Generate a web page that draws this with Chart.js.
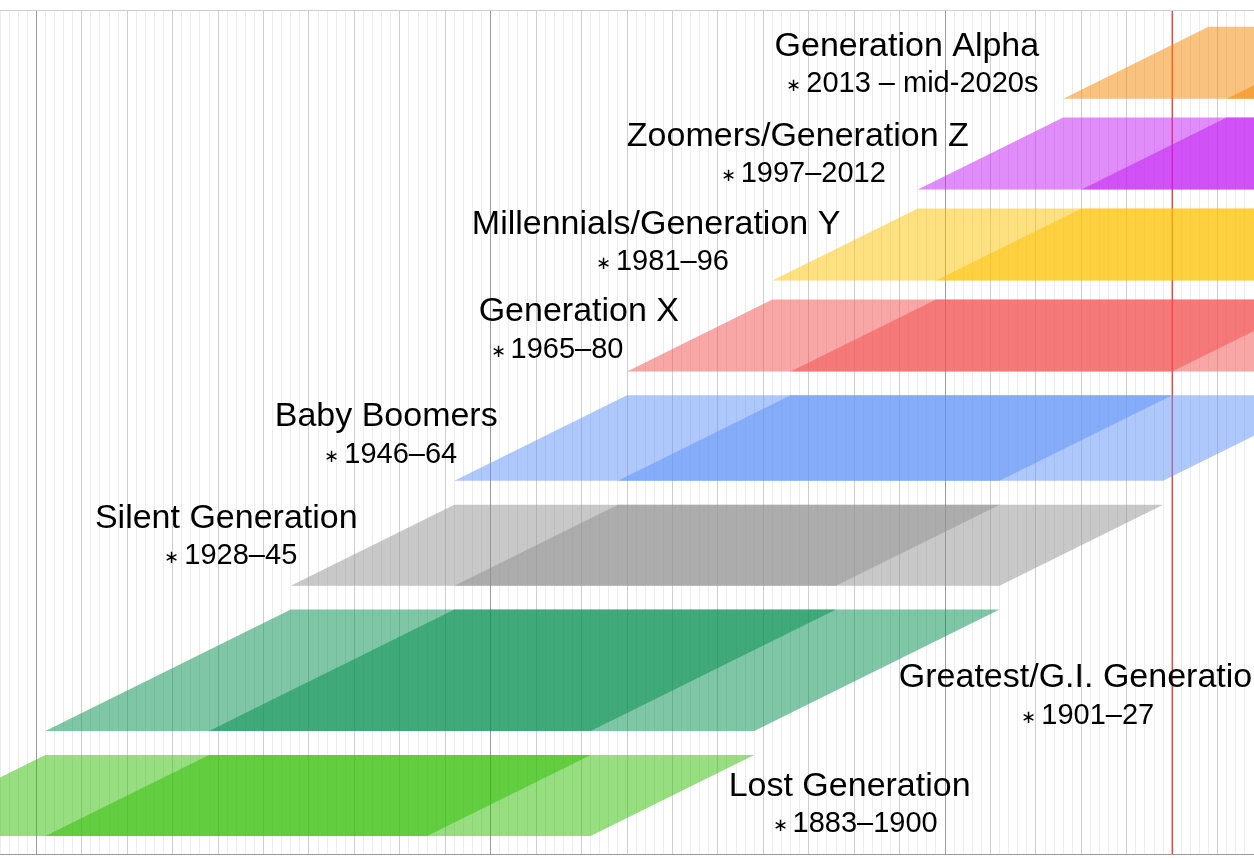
<!DOCTYPE html>
<html>
<head>
<meta charset="utf-8">
<script src="https://cdn.jsdelivr.net/npm/chart.js@4"></script>
<style>
  html, body { margin: 0; padding: 0; background: #fff; }
  #wrap { width: 1254px; height: 858px; }
</style>
</head>
<body>
<div id="wrap"><canvas id="chart"></canvas></div>
<script>
// Generations: first birth year, first year of the next generation
const names = ['Lost Generation', 'Greatest/G.I. Generation', 'Silent Generation', 'Baby Boomers',
  'Generation X', 'Millennials/Generation Y', 'Zoomers/Generation Z', 'Generation Alpha'];
const spans = ['1883–1900', '1901–27', '1928–45', '1946–64', '1965–80', '1981–96', '1997–2012', '2013 – mid-2020s'];
const startYears = [1883, 1901, 1928, 1946, 1965, 1981, 1997, 2013];
const endYears = [1901, 1928, 1946, 1965, 1981, 1997, 2013, 2029];
// age windows drawn for each cohort (years of age)
const youthAges = [0, 60];
const adultAges = [18, 78];
const colors = ['rgb(45,189,0)', 'rgb(0,141,77)', 'rgb(145,145,145)', 'rgb(93,145,247)',
  'rgb(243,77,77)', 'rgb(251,193,0)', 'rgb(193,25,243)', 'rgb(243,133,0)'];
// vertical stacking: gap below each band after the first
const bandGaps = [5.3, 5.3, 5.3, 5.3, 4.2, 4.2, 4.2];
const firstBandBase = 4;
const currentYear = 2025;
// label anchors [year, level] for name and birth-year line
const namePos = [[1989.5, 14.9], [2015.4, 39.1], [1920.9, 74.4], [1938.5, 97.1],
  [1959.7, 120.4], [1968.2, 139.8], [1983.8, 159.3], [1995.8, 179.3]];
const spanPos = [[1990.1, 6.7], [2015.7, 30.7], [1921.4, 66.2], [1939, 88.7],
  [1957.3, 112], [1968.9, 131.6], [1984.4, 151.1], [1996.4, 171.1]];

const xMin = 1896, xMax = 2034;

function withAlpha(rgb, a) {
  return rgb.replace('rgb(', 'rgba(').replace(')', ',' + a + ')');
}

// band bottoms stacked from the cohort lengths
const bandBase = [];
let level = firstBandBase;
startYears.forEach((s, i) => {
  bandBase.push(level);
  level += (endYears[i] - s) + (bandGaps[i] || 0);
});
const yMax = 187.5;

const datasets = [];
startYears.forEach((s, i) => {
  const e = endYears[i];
  const lo = bandBase[i], hi = lo + (e - s);
  [youthAges, adultAges].forEach(ages => {
    datasets.push({
      data: [
        { x: s + ages[0], y: lo },
        { x: s + ages[1], y: lo },
        { x: e + ages[1], y: hi },
        { x: e + ages[0], y: hi },
        { x: s + ages[0], y: lo }
      ],
      showLine: true,
      fill: 'shape',
      backgroundColor: withAlpha(colors[i], 0.5),
      borderWidth: 0,
      borderColor: 'rgba(0,0,0,0)',
      pointRadius: 0,
      tension: 0
    });
  });
});

datasets.push({
  data: [{ x: currentYear, y: 0 }, { x: currentYear, y: yMax }],
  showLine: true,
  borderColor: '#f22',
  borderWidth: 1.2,
  pointRadius: 0,
  fill: false
});

const labelPlugin = {
  id: 'genLabels',
  afterDatasetsDraw(chart) {
    const { ctx, scales: { x, y }, chartArea } = chart;
    ctx.save();
    ctx.strokeStyle = '#ccc';
    ctx.lineWidth = 1;
    ctx.beginPath();
    ctx.moveTo(0, chartArea.top + 0.5);
    ctx.lineTo(chart.width, chartArea.top + 0.5);
    ctx.stroke();
    ctx.fillStyle = '#000';
    ctx.textBaseline = 'middle';
    const nameFont = '34px "Liberation Sans", Arial, sans-serif';
    const spanFont = '29px "Liberation Sans", Arial, sans-serif';
    const starFont = '18px "Liberation Sans", Arial, sans-serif';
    names.forEach((n, i) => {
      ctx.font = nameFont;
      ctx.textAlign = 'center';
      ctx.fillText(n, x.getPixelForValue(namePos[i][0]), y.getPixelForValue(namePos[i][1]));
      // small asterisk followed by the birth years, centred together
      const text = spans[i];
      ctx.font = starFont;
      const starW = ctx.measureText('∗ ').width;
      ctx.font = spanFont;
      const textW = ctx.measureText(text).width;
      const left = x.getPixelForValue(spanPos[i][0]) - (starW + textW) / 2;
      const py = y.getPixelForValue(spanPos[i][1]);
      ctx.textAlign = 'left';
      ctx.font = starFont;
      ctx.fillText('∗', left, py + 2);
      ctx.font = spanFont;
      ctx.fillText(text, left + starW, py);
    });
    ctx.restore();
  }
};

new Chart(document.getElementById('chart'), {
  type: 'scatter',
  data: { datasets: datasets },
  options: {
    responsive: true,
    maintainAspectRatio: false,
    animation: false,
    layout: { padding: { top: 10, bottom: 4, left: 0, right: 0 } },
    plugins: { legend: { display: false }, tooltip: { enabled: false } },
    scales: {
      x: {
        type: 'linear',
        min: xMin,
        max: xMax,
        ticks: { display: false, stepSize: 1, maxTicksLimit: 200, autoSkip: false },
        grid: {
          drawTicks: false,
          color: c => c.tick.value % 50 === 0 ? '#9a9a9a' : (c.tick.value % 5 === 0 ? '#cfcfcf' : '#ececec'),
          lineWidth: 1
        },
        border: { color: '#999' }
      },
      y: { display: false, min: 0, max: yMax }
    }
  },
  plugins: [labelPlugin]
});
</script>
</body>
</html>
